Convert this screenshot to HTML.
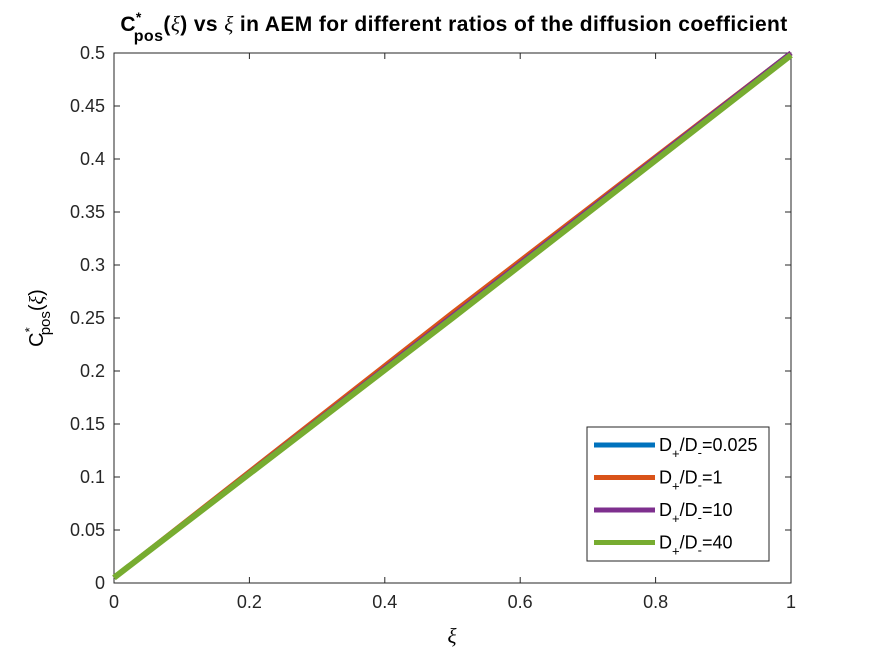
<!DOCTYPE html>
<html><head><meta charset="utf-8"><style>
body{margin:0;background:#fff;}
svg{display:block;font-family:"Liberation Sans",Arial,sans-serif;}
</style></head><body>
<svg id="chart" width="875" height="656">
<rect width="875" height="656" fill="#fff"/>
<g id="plot"></g>
<text x="454" y="31" text-anchor="middle" font-size="21" font-weight="bold" letter-spacing="0.4">C<tspan dy="-9" font-size="14">*</tspan><tspan dx="-8" dy="19" font-size="16">pos</tspan><tspan dy="-10">(</tspan><tspan font-style="italic" font-family="Liberation Serif" font-weight="normal">ξ</tspan>) vs <tspan font-style="italic" font-family="Liberation Serif" font-weight="normal">ξ</tspan> in AEM for different ratios of the diffusion coefficient</text>
<text x="452" y="643" text-anchor="middle" font-size="21" font-style="italic" font-family="Liberation Serif">ξ</text>
<text transform="translate(43,318) rotate(-90)" text-anchor="middle" font-size="20">C<tspan dy="-9" font-size="13">*</tspan><tspan dx="-8" dy="16" font-size="15">pos</tspan><tspan dy="-7">(</tspan><tspan font-style="italic" font-family="Liberation Serif">ξ</tspan>)</text>
</svg>
<script>
const xTicks=[0,0.2,0.4,0.6,0.8,1];
const yTicks=[0,0.05,0.1,0.15,0.2,0.25,0.3,0.35,0.4,0.45,0.5];
const xTickLabels=["0","0.2","0.4","0.6","0.8","1"];
const yTickLabels=["0","0.05","0.1","0.15","0.2","0.25","0.3","0.35","0.4","0.45","0.5"];
const seriesNames=["D+/D-=0.025","D+/D-=1","D+/D-=10","D+/D-=40"];
const xVals=[0,0.5,1];
const s1=[0.005,0.253,0.5];
const s2=[0.005,0.255,0.5];
const s3=[0.005,0.252,0.5];
const s4=[0.005,0.250,0.498];
const series=[s1,s2,s3,s4];
const colors=["#0072BD","#D95319","#7E2F8E","#77AC30"];
const L=114,R=791,T=53,B=583;
const sx=v=>L+(R-L)*v, sy=v=>B-(B-T)*v/0.5;
const NS="http://www.w3.org/2000/svg";
const g=document.getElementById('plot');
function mk(t,a,p){const e=document.createElementNS(NS,t);for(const k in a)e.setAttribute(k,a[k]);(p||g).appendChild(e);return e;}
const box=mk('rect',{x:L,y:T,width:R-L,height:B-T,fill:'#fff',stroke:'#262626','stroke-width':1});


xTicks.forEach((v,i)=>{const x=sx(v);
mk('line',{x1:x,x2:x,y1:B,y2:B-6,stroke:'#262626'});mk('line',{x1:x,x2:x,y1:T,y2:T+6,stroke:'#262626'});
const t=mk('text',{x:x,y:B+25,'text-anchor':'middle','font-size':18,fill:'#262626'});t.textContent=xTickLabels[i];

});
yTicks.forEach((v,i)=>{const y=sy(v);
mk('line',{x1:L,x2:L+6,y1:y,y2:y,stroke:'#262626'});mk('line',{x1:R,x2:R-6,y1:y,y2:y,stroke:'#262626'});
const t=mk('text',{x:L-9,y:y+6,'text-anchor':'end','font-size':18,fill:'#262626'});t.textContent=yTickLabels[i];

});
series.forEach((s,k)=>{const p=mk('polyline',{points:xVals.map((x,i)=>sx(x)+','+sy(s[i])).join(' '),fill:'none',stroke:colors[k],'stroke-width':k==3?6:5});

});
const lg=mk('g',{});


mk('rect',{x:587,y:427,width:182,height:134,fill:'#fff',stroke:'#262626'},lg);
seriesNames.forEach((n,k)=>{const y=445+k*32.5;
mk('line',{x1:594,x2:655,y1:y,y2:y,stroke:colors[k],'stroke-width':5},lg);
const t=mk('text',{x:659,y:y+6,'font-size':18,fill:'#000'},lg);
const r=n.split('=')[1];
t.innerHTML='D<tspan dy="7" font-size="13">+</tspan><tspan dy="-7">/D</tspan><tspan dy="6" font-size="13">-</tspan><tspan dy="-6">='+r+'</tspan>';

});
</script>
</body></html>
